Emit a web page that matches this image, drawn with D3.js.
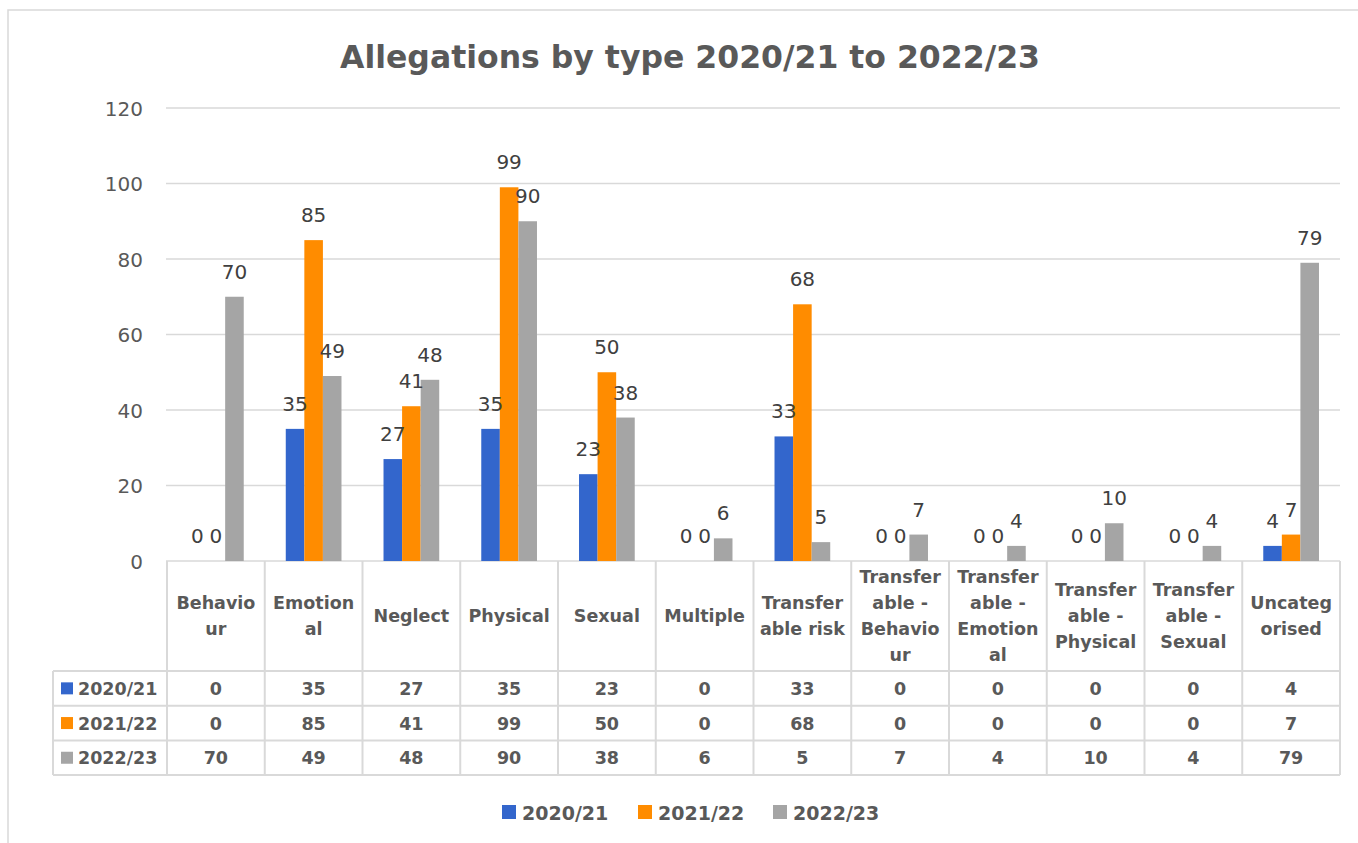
<!DOCTYPE html>
<html>
<head>
<meta charset="utf-8">
<script src="https://cdn.jsdelivr.net/npm/d3@7"></script>
<style>
  html, body { margin: 0; padding: 0; background: #fff; }
  svg { display: block; font-family: "DejaVu Sans", sans-serif; }
</style>
</head>
<body>
<svg id="chart" width="1358" height="843"></svg>
<script>
// ---- data ----
const categories = ["Behaviour", "Emotional", "Neglect", "Physical", "Sexual", "Multiple",
  "Transferable risk", "Transferable - Behaviour", "Transferable - Emotional",
  "Transferable - Physical", "Transferable - Sexual", "Uncategorised"];
const categoryLabelLines = [
  ["Behavio", "ur"], ["Emotion", "al"], ["Neglect"], ["Physical"], ["Sexual"], ["Multiple"],
  ["Transfer", "able risk"], ["Transfer", "able -", "Behavio", "ur"], ["Transfer", "able -", "Emotion", "al"],
  ["Transfer", "able -", "Physical"], ["Transfer", "able -", "Sexual"], ["Uncateg", "orised"]
];
const seriesNames = ["2020/21", "2021/22", "2022/23"];
const values2020 = [0, 35, 27, 35, 23, 0, 33, 0, 0, 0, 0, 4];
const values2021 = [0, 85, 41, 99, 50, 0, 68, 0, 0, 0, 0, 7];
const values2022 = [70, 49, 48, 90, 38, 6, 5, 7, 4, 10, 4, 79];
const seriesColors = ["#3366CC", "#FF8C00", "#A5A5A5"];
const yTicks = [0, 20, 40, 60, 80, 100, 120];
const titleText = "Allegations by type 2020/21 to 2022/23";

const seriesValues = [values2020, values2021, values2022];

// ---- layout ----
const svg = d3.select("#chart");
const plotLeft = 167, plotRight = 1340, plotTop = 108, plotBottom = 561;
const headerBottom = 671, rowH = 34.7, tableLeft = 53;
const gridColor = "#D9D9D9";
const textColor = "#595959";

// outer frame
svg.append("rect").attr("x", 8).attr("y", 10).attr("width", 1400).attr("height", 900)
  .attr("fill", "none").attr("stroke", gridColor).attr("stroke-width", 1.5);

// title
svg.append("text").attr("x", 690).attr("y", 68).attr("text-anchor", "middle")
  .attr("font-size", 31.5).attr("font-weight", "bold").attr("fill", textColor).text(titleText);

const x0 = d3.scaleBand().domain(categories).range([plotLeft, plotRight]).padding(0);
const bw = x0.bandwidth();
const x1 = d3.scaleBand().domain(seriesNames).range([bw * 0.215, bw * 0.785]).padding(0);
const y = d3.scaleLinear().domain([0, 120]).range([plotBottom, plotTop]);

// gridlines + y axis
const yAxis = d3.axisLeft(y).tickValues(yTicks).tickSize(0).tickPadding(0);
const gy = svg.append("g").attr("transform", `translate(143,0)`).call(yAxis);
gy.select(".domain").remove();
gy.selectAll("text").attr("font-size", 20).attr("fill", textColor).attr("font-family", "DejaVu Sans")
  .attr("dy", "0.35em");
svg.append("g").selectAll("line").data(yTicks).join("line")
  .attr("x1", plotLeft - 1).attr("x2", plotRight)
  .attr("y1", d => y(d)).attr("y2", d => y(d))
  .attr("stroke", gridColor).attr("stroke-width", 1.5);

// bars
const groups = svg.append("g").selectAll("g").data(categories).join("g")
  .attr("transform", d => `translate(${x0(d)},0)`);
groups.each(function (cat, ci) {
  const g = d3.select(this);
  seriesNames.forEach((s, si) => {
    const v = seriesValues[si][ci];
    g.append("rect").attr("x", x1(s)).attr("width", x1.bandwidth())
      .attr("y", y(v)).attr("height", y(0) - y(v)).attr("fill", seriesColors[si]);
  });
});
// data labels
groups.each(function (cat, ci) {
  const g = d3.select(this);
  seriesNames.forEach((s, si) => {
    const v = seriesValues[si][ci];
    g.append("text").attr("x", x1(s) + x1.bandwidth() / 2).attr("y", y(v) - 18)
      .attr("text-anchor", "middle").attr("font-size", 20).attr("fill", "#404040").text(v);
  });
});

// ---- data table ----
const tbl = svg.append("g");
const tableBottom = headerBottom + rowH * 3;
[headerBottom, headerBottom + rowH, headerBottom + 2 * rowH, tableBottom].forEach(yy => {
  tbl.append("line").attr("x1", tableLeft).attr("x2", plotRight).attr("y1", yy).attr("y2", yy)
    .attr("stroke", gridColor).attr("stroke-width", 2);
});
const bounds = categories.map(c => x0(c)).concat([plotRight]);
bounds.forEach(xx => {
  tbl.append("line").attr("x1", xx).attr("x2", xx).attr("y1", plotBottom).attr("y2", tableBottom)
    .attr("stroke", gridColor).attr("stroke-width", 2);
});
tbl.append("line").attr("x1", tableLeft).attr("x2", tableLeft).attr("y1", headerBottom).attr("y2", tableBottom)
  .attr("stroke", gridColor).attr("stroke-width", 2);

// header labels
const headerMid = (plotBottom + headerBottom) / 2;
const lineH = 25.7;
categories.forEach((c, ci) => {
  const lines = categoryLabelLines[ci];
  const t = tbl.append("text").attr("text-anchor", "middle").attr("font-size", 17.5)
    .attr("font-weight", "bold").attr("fill", textColor);
  lines.forEach((ln, li) => {
    t.append("tspan").attr("x", x0(c) + bw / 2)
      .attr("y", headerMid + (li - (lines.length - 1) / 2) * lineH + 6).text(ln);
  });
});
// rows
seriesNames.forEach((s, si) => {
  const cy = headerBottom + rowH * si + rowH / 2;
  tbl.append("rect").attr("x", 61).attr("y", cy - 6).attr("width", 12).attr("height", 12)
    .attr("fill", seriesColors[si]);
  tbl.append("text").attr("x", 78).attr("y", cy + 6.5).attr("font-size", 17.5)
    .attr("font-weight", "bold").attr("fill", textColor).text(s);
  categories.forEach((c, ci) => {
    tbl.append("text").attr("x", x0(c) + bw / 2).attr("y", cy + 6.5).attr("text-anchor", "middle")
      .attr("font-size", 17.5).attr("font-weight", "bold").attr("fill", textColor)
      .text(seriesValues[si][ci]);
  });
});

// ---- legend ----
const legendX = [502, 638, 773];
const legend = svg.append("g");
seriesNames.forEach((s, si) => {
  legend.append("rect").attr("x", legendX[si]).attr("y", 805).attr("width", 14).attr("height", 14)
    .attr("fill", seriesColors[si]);
  legend.append("text").attr("x", legendX[si] + 20).attr("y", 819.5).attr("font-size", 19)
    .attr("font-weight", "bold").attr("fill", textColor).text(s);
});
</script>
</body>
</html>
